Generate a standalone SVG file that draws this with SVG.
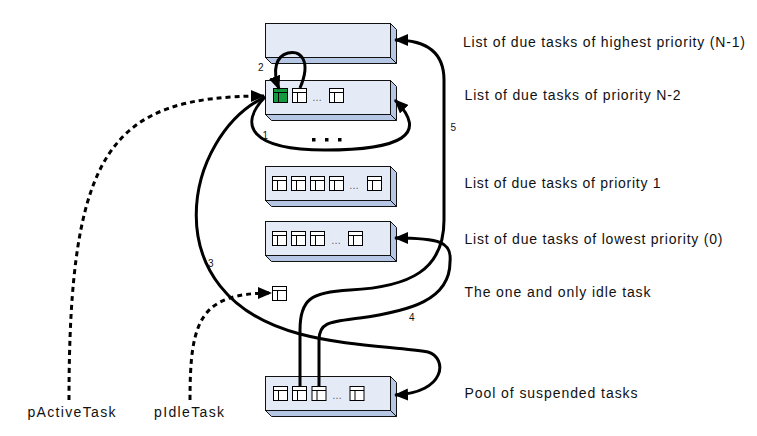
<svg xmlns="http://www.w3.org/2000/svg" xmlns:xlink="http://www.w3.org/1999/xlink" width="757" height="436" viewBox="0 0 757 436">
<style>
.front{fill:#E4EBF7;stroke:#111;stroke-width:1}
.side{fill:#B5C7E4;stroke:#111;stroke-width:1;stroke-linejoin:round}
.lbl{font-family:"Liberation Sans",Arial,sans-serif;font-size:14px;fill:#111}
.num{font-family:"Liberation Sans",Arial,sans-serif;font-size:10px;fill:#111}
.ell{font-family:"Liberation Sans",Arial,sans-serif;font-size:10px;fill:#555}
.con{fill:none;stroke:#000;stroke-width:3;marker-end:url(#arr)}
.dash{fill:none;stroke:#000;stroke-width:3;stroke-dasharray:5 4;marker-end:url(#arr)}
.dot{fill:#000}
</style>
<defs>
<marker id="arr" viewBox="0 0 14 12" refX="13" refY="6" markerWidth="14" markerHeight="12" markerUnits="userSpaceOnUse" orient="auto">
<path d="M0,0 L14,6 L0,12 Z" fill="#000"/>
</marker>
<g id="task">
<rect x="0.5" y="0.5" width="14" height="14" fill="#fff" stroke="#000" stroke-width="1"/>
<path d="M0.5,4.5 H14.5 M5.5,4.5 V14.5" stroke="#000" stroke-width="1" fill="none"/>
</g>
<g id="taskg">
<rect x="0.5" y="0.5" width="14" height="14" fill="#149A3E" stroke="#000" stroke-width="1"/>
<path d="M0.5,4.5 H14.5 M5.5,4.5 V14.5" stroke="#000" stroke-width="1" fill="none"/>
</g>
</defs>
<rect width="757" height="436" fill="#fff"/>

<g id="list-highest">
<polygon class="side" points="390.5,23.5 396.5,29.5 396.5,63.5 390.5,57.5"/>
<polygon class="side" points="265.5,57.5 390.5,57.5 396.5,63.5 271.5,63.5"/>
<rect class="front" x="265.5" y="23.5" width="125" height="34"/>
</g>

<g id="list-n2">
<polygon class="side" points="390.5,80.5 396.5,86.5 396.5,120.5 390.5,114.5"/>
<polygon class="side" points="265.5,114.5 390.5,114.5 396.5,120.5 271.5,120.5"/>
<rect class="front" x="265.5" y="80.5" width="125" height="34"/>
<use xlink:href="#taskg" x="273" y="88"/>
<use xlink:href="#task" x="292" y="88"/>
<text class="ell" x="312" y="101">…</text>
<use xlink:href="#task" x="329" y="88"/>
</g>

<g id="more-dots">
<rect class="dot" x="312" y="138" width="3.5" height="3.5"/>
<rect class="dot" x="325" y="138" width="3.5" height="3.5"/>
<rect class="dot" x="338" y="138" width="3.5" height="3.5"/>
</g>

<g id="list-p1">
<polygon class="side" points="390.5,166.5 396.5,172.5 396.5,206.5 390.5,200.5"/>
<polygon class="side" points="265.5,200.5 390.5,200.5 396.5,206.5 271.5,206.5"/>
<rect class="front" x="265.5" y="166.5" width="125" height="34"/>
<use xlink:href="#task" x="272" y="176"/>
<use xlink:href="#task" x="291" y="176"/>
<use xlink:href="#task" x="310" y="176"/>
<use xlink:href="#task" x="329" y="176"/>
<text class="ell" x="349" y="189">…</text>
<use xlink:href="#task" x="367" y="176"/>
</g>

<g id="list-lowest">
<polygon class="side" points="390.5,221.5 396.5,227.5 396.5,261.5 390.5,255.5"/>
<polygon class="side" points="265.5,255.5 390.5,255.5 396.5,261.5 271.5,261.5"/>
<rect class="front" x="265.5" y="221.5" width="125" height="34"/>
<use xlink:href="#task" x="272" y="231"/>
<use xlink:href="#task" x="291" y="231"/>
<use xlink:href="#task" x="310" y="231"/>
<text class="ell" x="331" y="244">…</text>
<use xlink:href="#task" x="348" y="231"/>
</g>

<g id="idle-task">
<use xlink:href="#task" x="272" y="286"/>
</g>

<g id="pool">
<polygon class="side" points="390.5,376.5 396.5,382.5 396.5,416.5 390.5,410.5"/>
<polygon class="side" points="265.5,410.5 390.5,410.5 396.5,416.5 271.5,416.5"/>
<rect class="front" x="265.5" y="376.5" width="125" height="34"/>
<use xlink:href="#task" x="273" y="386"/>
<use xlink:href="#task" x="292" y="386"/>
<use xlink:href="#task" x="311.5" y="386"/>
<text class="ell" x="332" y="399">…</text>
<use xlink:href="#task" x="349.5" y="386"/>
</g>

<g id="connectors">
<path id="c1" class="con" d="M265,97 C238,125 250,150 325,150 S430,135 395,100"/>
<path id="c2" class="con" d="M300,88 C312,60 300,50 288,53 C276,56 272,70 279,89"/>
<path id="c3" class="con" d="M265,97 C185,135 150,295 300,334 C345,346 400,347 428,352 C448,358 446,393 395,395"/>
<path id="c4" class="con" d="M319,386 L319,340 C319,322 330,322 360,318 C410,311 450,300 450,262 C452,242 440,238 395,238"/>
<path id="c5" class="con" d="M300,386 L300,330 C300,300 310,292 350,290 C410,287 444,270 444,220 L444,80 C444,55 430,40 395,40"/>
<path id="pactive" class="dash" d="M69,400 C69,150 110,96 264,96"/>
<path id="pidle" class="dash" d="M190,400 C190,320 200,293 271,293"/>
<text class="num" x="262.5" y="139">1</text>
<text class="num" x="258" y="70.5">2</text>
<text class="num" x="208" y="267">3</text>
<text class="num" x="409" y="321">4</text>
<text class="num" x="450.5" y="131">5</text>
</g>

<g id="labels">
<text class="lbl" x="463" y="47" textLength="282" lengthAdjust="spacing">List of due tasks of highest priority (N-1)</text>
<text class="lbl" x="464.5" y="100" textLength="216" lengthAdjust="spacing">List of due tasks of priority N-2</text>
<text class="lbl" x="464.5" y="187.5" textLength="196" lengthAdjust="spacing">List of due tasks of priority 1</text>
<text class="lbl" x="464.5" y="244" textLength="258" lengthAdjust="spacing">List of due tasks of lowest priority (0)</text>
<text class="lbl" x="464.5" y="297" textLength="186" lengthAdjust="spacing">The one and only idle task</text>
<text class="lbl" x="464.5" y="397.5" textLength="173" lengthAdjust="spacing">Pool of suspended tasks</text>
<text class="lbl" x="27.5" y="417" textLength="88" lengthAdjust="spacing">pActiveTask</text>
<text class="lbl" x="154" y="417" textLength="70" lengthAdjust="spacing">pIdleTask</text>
</g>
</svg>
